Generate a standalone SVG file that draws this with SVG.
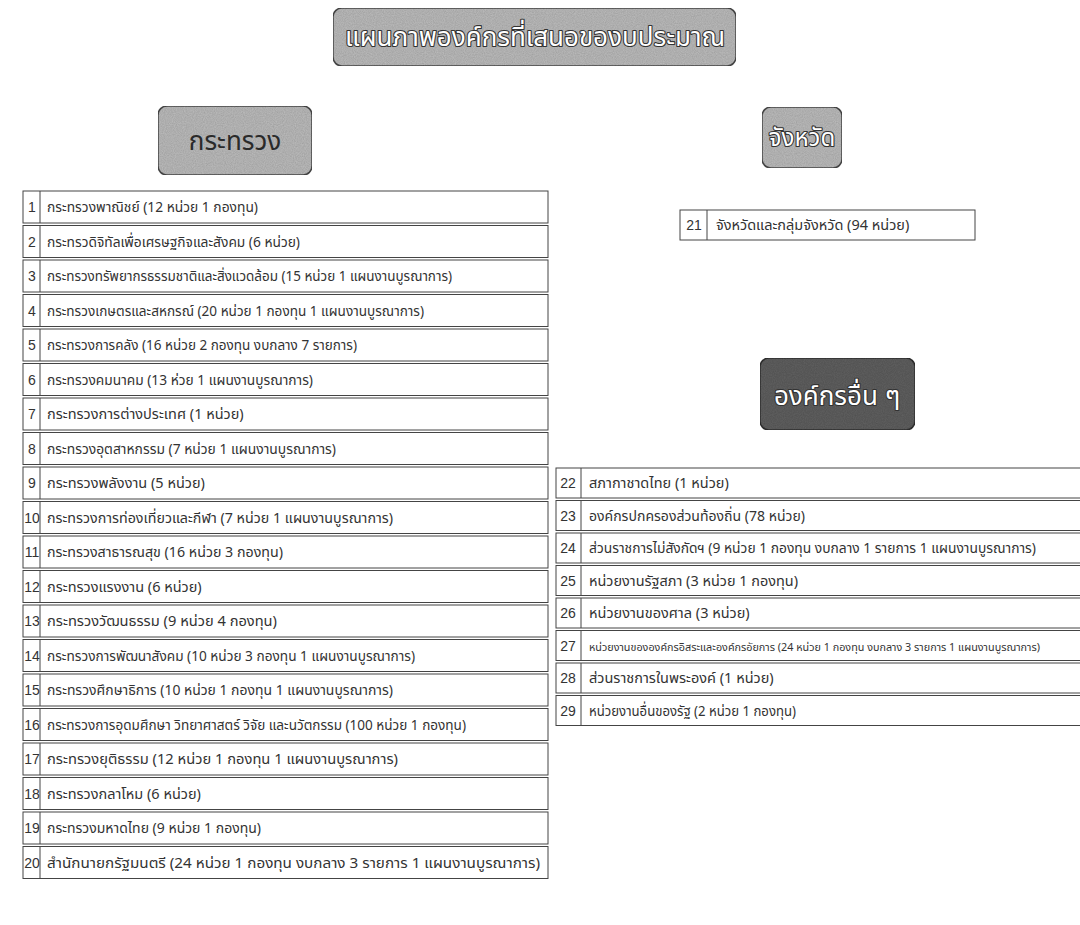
<svg xmlns="http://www.w3.org/2000/svg" width="1080" height="925" viewBox="0 0 1080 925">
<defs>
<filter id="grain" x="0" y="0" width="100%" height="100%">
<feTurbulence type="fractalNoise" baseFrequency="0.9" numOctaves="2" seed="3" result="n"/>
<feColorMatrix in="n" type="matrix" values="0 0 0 0 0  0 0 0 0 0  0 0 0 0 0  0 0 0 0.35 -0.05" result="d"/>
<feComposite in="d" in2="SourceGraphic" operator="in" result="dm"/>
<feMerge><feMergeNode in="SourceGraphic"/><feMergeNode in="dm"/></feMerge>
</filter>
<style>
.hbox{fill:#b9b9b9;stroke:#4a4a4a;stroke-width:1.5}
.dbox{fill:#5e5e5e;stroke:#333;stroke-width:1.5}
.htxt{font-family:"Noto Sans Thai","Noto Sans","DejaVu Sans",sans-serif;font-size:26px;text-anchor:middle;fill:#fff;stroke:#333;stroke-width:2.2;paint-order:stroke;stroke-linejoin:round}
.htxt2{font-family:"Noto Sans Thai","Noto Sans","DejaVu Sans",sans-serif;font-size:26px;text-anchor:middle;fill:#2a2a2a}
.row{fill:#fff;stroke:#444;stroke-width:1}
.sep{stroke:#444;stroke-width:1}
.num{font-family:"Liberation Sans Narrow","Liberation Sans",sans-serif;font-size:14px;text-anchor:middle;fill:#333}
.t{font-family:"Noto Sans Thai","Noto Sans","DejaVu Sans",sans-serif;font-size:14.5px;fill:#333}
.ts{font-family:"Noto Sans Thai","Noto Sans","DejaVu Sans",sans-serif;font-size:10px;fill:#333}
</style>
</defs>
<rect width="1080" height="925" fill="#fff"/>

<g id="title">
<rect class="hbox" x="333" y="8" width="403" height="58" rx="9" filter="url(#grain)"/>
<text class="htxt" x="535" y="46">แผนภาพองค์กรที่เสนอของบประมาณ</text>
</g>
<g id="ministry-head">
<rect class="hbox" x="158" y="106" width="154" height="69" rx="9" filter="url(#grain)"/>
<text class="htxt2" x="235" y="150">กระทรวง</text>
</g>
<g id="province-head">
<rect class="hbox" x="762" y="107" width="80" height="61" rx="9" filter="url(#grain)"/>
<text class="htxt" x="802" y="146" style="font-size:24px">จังหวัด</text>
</g>
<g id="other-head">
<rect class="dbox" x="760" y="358" width="155" height="72" rx="9" filter="url(#grain)"/>
<text class="htxt" x="837" y="405">องค์กรอื่น ๆ</text>
</g>

<g id="ministry-table">
<g id="r1"><rect class="row" x="23" y="191" width="525" height="32"/><line class="sep" x1="40" y1="191" x2="40" y2="223"/><text class="num" x="32" y="212">1</text><text class="t" x="47" y="212" textLength="211" lengthAdjust="spacingAndGlyphs">กระทรวงพาณิชย์ (12 หน่วย 1 กองทุน)</text></g>
<g id="r2"><rect class="row" x="23" y="225.5" width="525" height="32"/><line class="sep" x1="40" y1="225.5" x2="40" y2="257.5"/><text class="num" x="32" y="246.5">2</text><text class="t" x="47" y="246.5" textLength="253" lengthAdjust="spacingAndGlyphs">กระทรวดิจิทัลเพื่อเศรษฐกิจและสังคม (6 หน่วย)</text></g>
<g id="r3"><rect class="row" x="23" y="260" width="525" height="32"/><line class="sep" x1="40" y1="260" x2="40" y2="292"/><text class="num" x="32" y="281">3</text><text class="t" x="47" y="281" textLength="405" lengthAdjust="spacingAndGlyphs">กระทรวงทรัพยากรธรรมชาติและสิ่งแวดล้อม (15 หน่วย 1 แผนงานบูรณาการ)</text></g>
<g id="r4"><rect class="row" x="23" y="294.5" width="525" height="32"/><line class="sep" x1="40" y1="294.5" x2="40" y2="326.5"/><text class="num" x="32" y="315.5">4</text><text class="t" x="47" y="315.5" textLength="377" lengthAdjust="spacingAndGlyphs">กระทรวงเกษตรและสหกรณ์ (20 หน่วย 1 กองทุน 1 แผนงานบูรณาการ)</text></g>
<g id="r5"><rect class="row" x="23" y="329" width="525" height="32"/><line class="sep" x1="40" y1="329" x2="40" y2="361"/><text class="num" x="32" y="350">5</text><text class="t" x="47" y="350" textLength="310" lengthAdjust="spacingAndGlyphs">กระทรวงการคลัง (16 หน่วย 2 กองทุน งบกลาง 7 รายการ)</text></g>
<g id="r6"><rect class="row" x="23" y="363.5" width="525" height="32"/><line class="sep" x1="40" y1="363.5" x2="40" y2="395.5"/><text class="num" x="32" y="384.5">6</text><text class="t" x="47" y="384.5" textLength="266" lengthAdjust="spacingAndGlyphs">กระทรวงคมนาคม (13 ห่วย 1 แผนงานบูรณาการ)</text></g>
<g id="r7"><rect class="row" x="23" y="398" width="525" height="32"/><line class="sep" x1="40" y1="398" x2="40" y2="430"/><text class="num" x="32" y="419">7</text><text class="t" x="47" y="419">กระทรวงการต่างประเทศ (1 หน่วย)</text></g>
<g id="r8"><rect class="row" x="23" y="432.5" width="525" height="32"/><line class="sep" x1="40" y1="432.5" x2="40" y2="464.5"/><text class="num" x="32" y="453.5">8</text><text class="t" x="47" y="453.5" textLength="289" lengthAdjust="spacingAndGlyphs">กระทรวงอุตสาหกรรม (7 หน่วย 1 แผนงานบูรณาการ)</text></g>
<g id="r9"><rect class="row" x="23" y="467" width="525" height="32"/><line class="sep" x1="40" y1="467" x2="40" y2="499"/><text class="num" x="32" y="488">9</text><text class="t" x="47" y="488">กระทรวงพลังงาน (5 หน่วย)</text></g>
<g id="r10"><rect class="row" x="23" y="501.5" width="525" height="32"/><line class="sep" x1="40" y1="501.5" x2="40" y2="533.5"/><text class="num" x="32" y="522.5">10</text><text class="t" x="47" y="522.5" textLength="346" lengthAdjust="spacingAndGlyphs">กระทรวงการท่องเที่ยวและกีฬา (7 หน่วย 1 แผนงานบูรณาการ)</text></g>
<g id="r11"><rect class="row" x="23" y="536" width="525" height="32"/><line class="sep" x1="40" y1="536" x2="40" y2="568"/><text class="num" x="32" y="557">11</text><text class="t" x="47" y="557" textLength="236" lengthAdjust="spacingAndGlyphs">กระทรวงสาธารณสุข (16 หน่วย 3 กองทุน)</text></g>
<g id="r12"><rect class="row" x="23" y="570.5" width="525" height="32"/><line class="sep" x1="40" y1="570.5" x2="40" y2="602.5"/><text class="num" x="32" y="591.5">12</text><text class="t" x="47" y="591.5">กระทรวงแรงงาน (6 หน่วย)</text></g>
<g id="r13"><rect class="row" x="23" y="605" width="525" height="32"/><line class="sep" x1="40" y1="605" x2="40" y2="637"/><text class="num" x="32" y="626">13</text><text class="t" x="47" y="626" textLength="230" lengthAdjust="spacingAndGlyphs">กระทรวงวัฒนธรรม (9 หน่วย 4 กองทุน)</text></g>
<g id="r14"><rect class="row" x="23" y="639.5" width="525" height="32"/><line class="sep" x1="40" y1="639.5" x2="40" y2="671.5"/><text class="num" x="32" y="660.5">14</text><text class="t" x="47" y="660.5" textLength="368" lengthAdjust="spacingAndGlyphs">กระทรวงการพัฒนาสังคม (10 หน่วย 3 กองทุน 1 แผนงานบูรณาการ)</text></g>
<g id="r15"><rect class="row" x="23" y="674" width="525" height="32"/><line class="sep" x1="40" y1="674" x2="40" y2="706"/><text class="num" x="32" y="695">15</text><text class="t" x="47" y="695" textLength="346" lengthAdjust="spacingAndGlyphs">กระทรวงศึกษาธิการ (10 หน่วย 1 กองทุน 1 แผนงานบูรณาการ)</text></g>
<g id="r16"><rect class="row" x="23" y="708.5" width="525" height="32"/><line class="sep" x1="40" y1="708.5" x2="40" y2="740.5"/><text class="num" x="32" y="729.5">16</text><text class="t" x="47" y="729.5" textLength="419" lengthAdjust="spacingAndGlyphs">กระทรวงการอุดมศึกษา วิทยาศาสตร์ วิจัย และนวัตกรรม (100 หน่วย 1 กองทุน)</text></g>
<g id="r17"><rect class="row" x="23" y="743" width="525" height="32"/><line class="sep" x1="40" y1="743" x2="40" y2="775"/><text class="num" x="32" y="764">17</text><text class="t" x="47" y="764" textLength="351" lengthAdjust="spacingAndGlyphs">กระทรวงยุติธรรม (12 หน่วย 1 กองทุน 1 แผนงานบูรณาการ)</text></g>
<g id="r18"><rect class="row" x="23" y="777.5" width="525" height="32"/><line class="sep" x1="40" y1="777.5" x2="40" y2="809.5"/><text class="num" x="32" y="798.5">18</text><text class="t" x="47" y="798.5">กระทรวงกลาโหม (6 หน่วย)</text></g>
<g id="r19"><rect class="row" x="23" y="812" width="525" height="32"/><line class="sep" x1="40" y1="812" x2="40" y2="844"/><text class="num" x="32" y="833">19</text><text class="t" x="47" y="833" textLength="214" lengthAdjust="spacingAndGlyphs">กระทรวงมหาดไทย (9 หน่วย 1 กองทุน)</text></g>
<g id="r20"><rect class="row" x="23" y="846.5" width="525" height="32"/><line class="sep" x1="40" y1="846.5" x2="40" y2="878.5"/><text class="num" x="32" y="867.5">20</text><text class="t" x="47" y="867.5" textLength="493" lengthAdjust="spacingAndGlyphs">สำนักนายกรัฐมนตรี (24 หน่วย 1 กองทุน งบกลาง 3 รายการ 1 แผนงานบูรณาการ)</text></g>
</g>

<g id="province-table">
<g id="r21"><rect class="row" x="680" y="210" width="295" height="30"/><line class="sep" x1="707" y1="210" x2="707" y2="240"/><text class="num" x="694" y="230">21</text><text class="t" x="716" y="230">จังหวัดและกลุ่มจังหวัด (94 หน่วย)</text></g>
</g>

<g id="other-table">
<g id="r22"><rect class="row" x="556" y="468" width="530" height="30"/><line class="sep" x1="581" y1="468" x2="581" y2="498"/><text class="num" x="568" y="488">22</text><text class="t" x="589" y="488">สภากาชาดไทย  (1 หน่วย)</text></g>
<g id="r23"><rect class="row" x="556" y="500.5" width="530" height="30"/><line class="sep" x1="581" y1="500.5" x2="581" y2="530.5"/><text class="num" x="568" y="520.5">23</text><text class="t" x="589" y="520.5" textLength="216" lengthAdjust="spacingAndGlyphs">องค์กรปกครองส่วนท้องถิ่น (78 หน่วย)</text></g>
<g id="r24"><rect class="row" x="556" y="533" width="530" height="30"/><line class="sep" x1="581" y1="533" x2="581" y2="563"/><text class="num" x="568" y="553">24</text><text class="t" x="589" y="553" textLength="447" lengthAdjust="spacingAndGlyphs">ส่วนราชการไม่สังกัดฯ (9 หน่วย 1 กองทุน งบกลาง 1 รายการ 1 แผนงานบูรณาการ)</text></g>
<g id="r25"><rect class="row" x="556" y="565.5" width="530" height="30"/><line class="sep" x1="581" y1="565.5" x2="581" y2="595.5"/><text class="num" x="568" y="585.5">25</text><text class="t" x="589" y="585.5" textLength="209" lengthAdjust="spacingAndGlyphs">หน่วยงานรัฐสภา (3 หน่วย 1 กองทุน)</text></g>
<g id="r26"><rect class="row" x="556" y="598" width="530" height="30"/><line class="sep" x1="581" y1="598" x2="581" y2="628"/><text class="num" x="568" y="618">26</text><text class="t" x="589" y="618">หน่วยงานของศาล (3 หน่วย)</text></g>
<g id="r27"><rect class="row" x="556" y="630.5" width="530" height="30"/><line class="sep" x1="581" y1="630.5" x2="581" y2="660.5"/><text class="num" x="568" y="650.5">27</text><text class="ts" x="589" y="650.5" textLength="451" lengthAdjust="spacingAndGlyphs">หน่วยงานขององค์กรอิสระและองค์กรอัยการ (24 หน่วย 1 กองทุน งบกลาง 3 รายการ 1 แผนงานบูรณาการ)</text></g>
<g id="r28"><rect class="row" x="556" y="663" width="530" height="30"/><line class="sep" x1="581" y1="663" x2="581" y2="693"/><text class="num" x="568" y="683">28</text><text class="t" x="589" y="683">ส่วนราชการในพระองค์ (1 หน่วย)</text></g>
<g id="r29"><rect class="row" x="556" y="695.5" width="530" height="30"/><line class="sep" x1="581" y1="695.5" x2="581" y2="725.5"/><text class="num" x="568" y="715.5">29</text><text class="t" x="589" y="715.5" textLength="207" lengthAdjust="spacingAndGlyphs">หน่วยงานอื่นของรัฐ (2 หน่วย 1 กองทุน)</text></g>
</g>
</svg>
